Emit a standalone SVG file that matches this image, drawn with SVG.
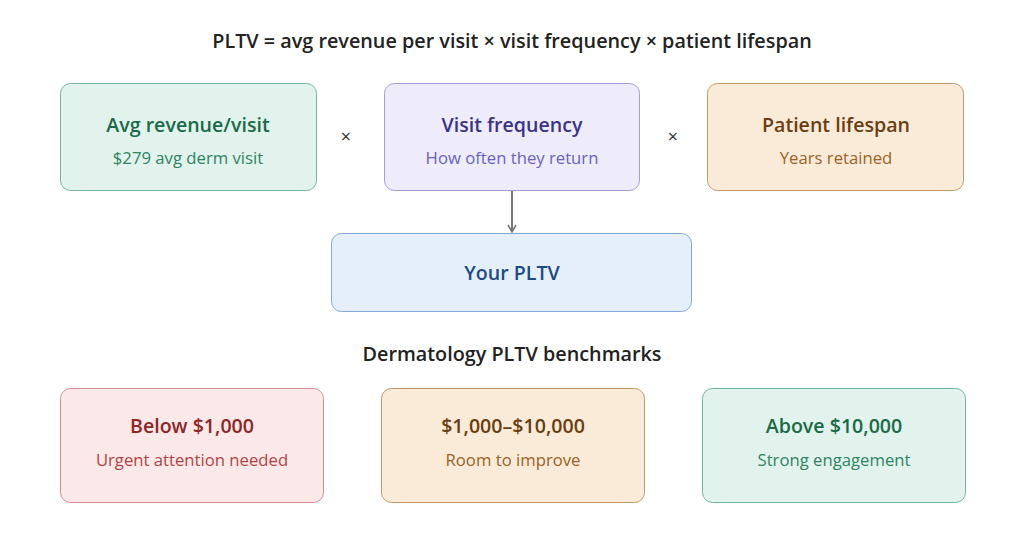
<svg xmlns="http://www.w3.org/2000/svg" width="1024" height="558" viewBox="0 0 1024 558">
<defs>
<style>
text{font-family:"Open Sans","Noto Sans","Liberation Sans",sans-serif;text-anchor:middle}
.h{font-size:19.8px;font-weight:600;fill:#222}
.t{font-size:19.6px;font-weight:600}
.s{font-size:16.7px}
.x{font-size:18px;fill:#333}
.g rect{fill:#e1f3ec;stroke:#74b59a}
.g .t{fill:#1b6a48}.g .s{fill:#2f8462}
.p rect{fill:#eeecfb;stroke:#a19bdc}
.p .t{fill:#3a3388}.p .s{fill:#6a60c2}
.o rect{fill:#faebd8;stroke:#c39868}
.o .t{fill:#6a3e10}.o .s{fill:#9a6224}
.b rect{fill:#e5eff9;stroke:#82a9da}
.b .t{fill:#1c4a86}
.r rect{fill:#fbe9e9;stroke:#d58e8e}
.r .t{fill:#8e2626}.r .s{fill:#b04444}
</style>
<marker id="ah" viewBox="0 0 10 10" refX="8" refY="5" markerWidth="10" markerHeight="10" markerUnits="userSpaceOnUse" orient="auto"><path d="M1,1 L8,5 L1,9" fill="none" stroke="#777" stroke-width="1.6"/></marker>
</defs>
<rect width="1024" height="558" fill="#fff"/>
<text class="h" x="512" y="48">PLTV = avg revenue per visit × visit frequency × patient lifespan</text>
<g id="n1" class="g"><rect x="60.5" y="83.5" width="256" height="107" rx="10"/><text class="t" x="188" y="132">Avg revenue/visit</text><text class="s" x="188" y="164">$279 avg derm visit</text></g>
<text class="x" x="346" y="143">×</text>
<g id="n2" class="p"><rect x="384.5" y="83.5" width="255" height="107" rx="10"/><text class="t" x="512" y="132">Visit frequency</text><text class="s" x="512" y="164">How often they return</text></g>
<text class="x" x="673" y="143">×</text>
<g id="n3" class="o"><rect x="707.5" y="83.5" width="256" height="107" rx="10"/><text class="t" x="836" y="132">Patient lifespan</text><text class="s" x="836" y="164">Years retained</text></g>
<g id="n4" class="b"><rect x="331.5" y="233.5" width="360" height="78" rx="10"/><text class="t" x="512" y="280">Your PLTV</text></g>
<text class="h" x="512" y="361">Dermatology PLTV benchmarks</text>
<g id="n5" class="r"><rect x="60.5" y="388.5" width="263" height="114" rx="10"/><text class="t" x="192" y="433">Below $1,000</text><text class="s" x="192" y="466">Urgent attention needed</text></g>
<g id="n6" class="o"><rect x="381.5" y="388.5" width="263" height="114" rx="10"/><text class="t" x="513" y="433">$1,000–$10,000</text><text class="s" x="513" y="466">Room to improve</text></g>
<g id="n7" class="g"><rect x="702.5" y="388.5" width="263" height="114" rx="10"/><text class="t" x="834" y="433">Above $10,000</text><text class="s" x="834" y="466">Strong engagement</text></g>
<g id="connectors"><line x1="512" y1="191" x2="512" y2="232" stroke="#777" stroke-width="2" marker-end="url(#ah)"/></g>
</svg>
